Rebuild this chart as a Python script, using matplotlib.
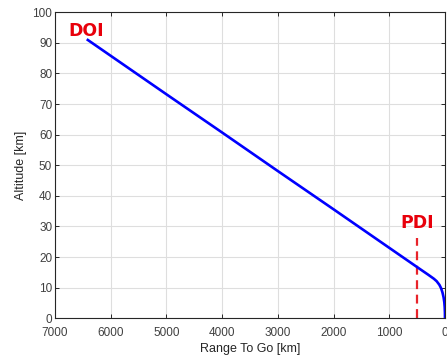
import matplotlib
matplotlib.use("Agg")
import matplotlib.pyplot as plt

# trajectory (range to go [km], altitude [km])
range_to_go = [6430, 5000, 4000, 3000, 2000, 1000, 500, 300, 200, 150,
               100, 70, 45, 25, 12, 5, 1, 0]
altitude = [91.2, 73.2, 60.7, 48.1, 35.6, 23.0, 16.7, 14.2, 12.9, 12.1,
            10.9, 9.8, 8.4, 6.8, 5.2, 3.6, 1.8, 0.0]

# powered descent initiation marker
pdi_range = 500
pdi_top = 26.2

x_ticks = [7000, 6000, 5000, 4000, 3000, 2000, 1000, 0]
y_ticks = [0, 10, 20, 30, 40, 50, 60, 70, 80, 90, 100]

plt.rcParams["font.family"] = ["Liberation Sans", "DejaVu Sans"]

fig = plt.figure(figsize=(4.47, 3.62), dpi=100)
ax = fig.add_axes([0.123, 0.121, 0.8725, 0.845])

ax.plot(range_to_go, altitude, color="#0000ff", linewidth=1.9,
        solid_capstyle="butt", zorder=3)
ax.plot([pdi_range, pdi_range], [0, pdi_top], color="#e8232a",
        linewidth=1.6, linestyle=(0, (4, 2.5)), zorder=2)

ax.text(6435, 93.8, "DOI", color="#e8000b", fontsize=12.5,
        fontweight="bold", ha="center", va="center",
        family=["DejaVu Sans"])
ax.text(pdi_range, 31.0, "PDI", color="#e8000b", fontsize=12.5,
        fontweight="bold", ha="center", va="center",
        family=["DejaVu Sans"])

ax.set_xlim(7000, 0)
ax.set_ylim(0, 100)
ax.set_xticks(x_ticks)
ax.set_yticks(y_ticks)
ax.set_xticklabels([str(t) for t in x_ticks])
ax.set_yticklabels([str(t) for t in y_ticks])

ax.grid(True, color="#dedede", linewidth=0.8)
ax.set_axisbelow(True)
ax.tick_params(direction="in", length=3, width=0.7, top=True, right=True,
               labelsize=8.5, colors="#262626", labelcolor="#404040")
ax.tick_params(axis="x", pad=6)
ax.tick_params(axis="y", pad=2)
for s in ax.spines.values():
    s.set_color("#262626")
    s.set_linewidth(0.8)

ax.set_xlabel("Range To Go [km]", fontsize=9, color="#262626", labelpad=3)
ax.set_ylabel("Altitude [km]", fontsize=9, color="#262626", labelpad=4)

fig.savefig("out.png", dpi=100)
